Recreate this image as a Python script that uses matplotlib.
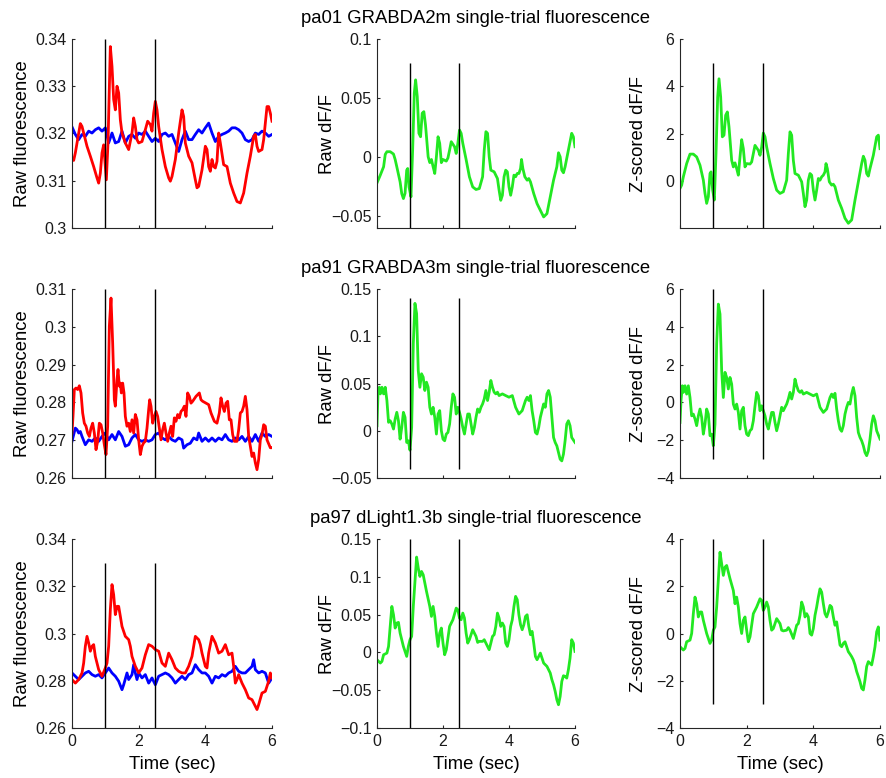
import numpy as np
import matplotlib
matplotlib.use("Agg")
import matplotlib.pyplot as plt

plt.rcParams["font.family"] = ["Liberation Sans", "DejaVu Sans"]

# event markers (sec)
event_times = [1.0, 2.5]

row_titles = [
    "pa01 GRABDA2m single-trial fluorescence",
    "pa91 GRABDA3m single-trial fluorescence",
    "pa97 dLight1.3b single-trial fluorescence",
]
col_ylabels = ["Raw fluorescence", "Raw dF/F", "Z-scored dF/F"]
x_ticks = [0, 2, 4, 6]

# ---- row 1 : pa01 ----
r1_blue = np.array([
    [0.0, .3214], [0.1, .3198], [0.2, .3187], [0.3, .3198], [0.4, .3194], [0.5, .3205],
    [0.6, .3201], [0.7, .3208], [0.8, .3212], [0.9, .3205], [1.0, .3212], [1.1, .3180],
    [1.2, .3201], [1.3, .3180], [1.4, .3183], [1.5, .3205], [1.6, .3180], [1.7, .3194],
    [1.8, .3198], [1.9, .3190], [2.0, .3201], [2.1, .3198], [2.2, .3205], [2.3, .3194],
    [2.4, .3183], [2.5, .3190], [2.6, .3183], [2.7, .3198], [2.8, .3201], [2.9, .3194],
    [3.0, .3198], [3.1, .3180], [3.2, .3162], [3.3, .3187], [3.4, .3205], [3.5, .3187],
    [3.6, .3187], [3.7, .3198], [3.8, .3208], [3.9, .3201], [4.0, .3212], [4.1, .3222],
    [4.2, .3201], [4.3, .3183], [4.4, .3194], [4.5, .3198], [4.6, .3201], [4.7, .3205],
    [4.8, .3212], [4.9, .3212], [5.0, .3208], [5.1, .3201], [5.2, .3187], [5.3, .3183],
    [5.4, .3187], [5.5, .3201], [5.6, .3198], [5.7, .3205], [5.8, .3201], [5.9, .3194],
    [6.0, .3198],
])
r1_red = np.array([
    [0.0, .3146], [.05, .3143], [0.1, .3159], [.25, .3221], [0.3, .3215], [.35, .3201],
    [.45, .3173], [.55, .3152], [.65, .3130], [.75, .3106], [0.8, .3095], [.85, .3116],
    [0.9, .3159], [.95, .3176], [1.03, .3102], [1.08, .3180], [1.15, .3384], [1.2, .3342],
    [1.25, .3272], [1.3, .3250], [1.35, .3300], [1.4, .3286], [1.45, .3229], [1.5, .3201],
    [1.6, .3180], [1.7, .3166], [1.8, .3201], [1.85, .3233], [1.9, .3215], [1.95, .3187],
    [2.0, .3180], [2.1, .3183], [2.2, .3208], [2.27, .3226], [2.35, .3219], [2.4, .3205],
    [2.45, .3243], [2.5, .3268], [2.55, .3250], [2.6, .3215], [2.7, .3166], [2.8, .3130],
    [2.9, .3106], [2.95, .3099], [3.0, .3109], [3.1, .3145], [3.2, .3201], [3.3, .3250],
    [3.35, .3236], [3.4, .3180], [3.5, .3152], [3.6, .3138], [3.7, .3102], [3.75, .3085],
    [3.8, .3088], [3.9, .3123], [4.0, .3173], [4.05, .3166], [4.1, .3130], [4.15, .3120],
    [4.2, .3145], [4.25, .3130], [4.3, .3127], [4.35, .3141], [4.4, .3201], [4.45, .3180],
    [4.55, .3134], [4.65, .3130], [4.75, .3095], [4.85, .3074], [4.95, .3056], [5.05, .3053],
    [5.15, .3074], [5.25, .3116], [5.35, .3152], [5.45, .3194], [5.5, .3198], [5.55, .3173],
    [5.6, .3162], [5.7, .3166], [5.75, .3187], [5.8, .3222], [5.85, .3257], [5.9, .3257],
    [5.95, .3243], [6.0, .3226],
])
r1_dff = np.array([
    [0.0, -.0222], [0.1, -.0156], [0.2, -.0085], [.25, .0020], [0.3, .0043], [0.4, .0043],
    [0.5, .0023], [.55, -.0023], [0.6, -.0085], [0.7, -.0213], [.75, -.0313], [0.8, -.0355],
    [.85, -.0310], [0.9, -.0114], [.93, -.0100], [.97, -.0256], [1.03, -.0340], [1.08, .0057],
    [1.13, .0540], [1.17, .0653], [1.22, .0511], [1.27, .0199], [1.32, .0170], [1.37, .0370],
    [1.42, .0383], [1.47, .0270], [1.55, .0000], [1.6, -.0050], [1.65, -.0023], [1.7, -.0085],
    [1.75, -.0142], [1.8, .0000], [1.85, .0170], [1.9, .0114], [1.95, -.0050], [2.0, -.0023],
    [2.1, -.0037], [2.15, -.0010], [2.2, .0057], [2.25, .0128], [2.35, .0085], [2.4, .0028],
    [2.45, .0114], [2.5, .0227], [2.55, .0199], [2.6, .0114], [2.7, -.0023], [2.8, -.0170],
    [2.9, -.0256], [3.0, -.0278], [3.1, -.0270], [3.2, -.0170], [3.25, .0057], [3.3, .0213],
    [3.35, .0199], [3.4, .0000], [3.45, -.0114], [3.55, -.0128], [3.65, -.0185], [3.7, -.0284],
    [3.75, -.0370], [3.8, -.0327], [3.85, -.0170], [3.9, -.0114], [3.95, -.0128], [4.0, -.0256],
    [4.05, -.0327], [4.1, -.0256], [4.15, -.0156], [4.2, -.0170], [4.25, -.0142], [4.3, -.0142],
    [4.35, -.0100], [4.38, -.0023], [4.42, -.0100], [4.48, -.0170], [4.55, -.0199], [4.6, -.0185],
    [4.65, -.0213], [4.75, -.0313], [4.85, -.0398], [4.95, -.0455], [5.05, -.0511], [5.15, -.0483],
    [5.25, -.0341], [5.35, -.0199], [5.45, -.0085], [5.5, .0034], [5.55, .0000], [5.6, -.0114],
    [5.65, -.0136], [5.7, -.0085], [5.8, .0057], [5.9, .0199], [5.95, .0170], [6.0, .0085],
])
r1_z = np.array([
    [0.0, -.31], [.05, -.17], [0.1, .18], [0.2, .74], [0.3, 1.14], [0.4, 1.14],
    [0.5, 1.02], [0.6, .67], [0.7, .04], [.75, -.52], [0.8, -.94], [.85, -.66],
    [0.9, .32], [.93, .39], [.98, -.38], [1.03, -.80], [1.08, 1.16], [1.13, 3.55],
    [1.17, 4.32], [1.22, 3.55], [1.27, 1.87], [1.32, 1.94], [1.37, 2.78], [1.42, 2.92],
    [1.47, 2.29], [1.55, .88], [1.6, .60], [1.65, .77], [1.7, .53], [1.75, .25],
    [1.8, 1.02], [1.85, 1.75], [1.9, 1.37], [1.95, .60], [2.0, .74], [2.1, .72],
    [2.15, .81], [2.2, 1.16], [2.25, 1.51], [2.35, 1.30], [2.4, 1.09], [2.45, 1.44],
    [2.5, 2.03], [2.55, 1.87], [2.6, 1.44], [2.7, .74], [2.8, .11], [2.9, -.38],
    [3.0, -.52], [3.1, -.45], [3.2, .04], [3.25, 1.16], [3.3, 2.08], [3.35, 1.94],
    [3.4, .88], [3.45, .32], [3.55, .25], [3.65, -.03], [3.7, -.52], [3.75, -1.08],
    [3.8, -.80], [3.85, .04], [3.9, .32], [3.95, .25], [4.0, -.38], [4.05, -.80],
    [4.1, -.38], [4.15, .11], [4.2, .04], [4.25, .18], [4.3, .25], [4.35, .39],
    [4.38, .74], [4.42, .53], [4.48, -.03], [4.55, -.17], [4.6, -.13], [4.65, -.24],
    [4.75, -.80], [4.85, -1.15], [4.95, -1.57], [5.05, -1.78], [5.15, -1.64], [5.25, -.80],
    [5.35, -.03], [5.45, .74], [5.5, 1.05], [5.55, .88], [5.6, .32], [5.65, .21],
    [5.7, .53], [5.8, 1.09], [5.9, 1.87], [5.95, 1.94], [6.0, 1.37],
])

# ---- row 2 : pa91 ----
r2_blue = np.array([
    [0.0, .2697], [0.1, .2732], [.15, .2728], [0.2, .2719], [.25, .2723], [0.3, .2710],
    [0.4, .2688], [0.5, .2701], [0.6, .2697], [0.7, .2706], [0.8, .2697], [0.9, .2710],
    [1.0, .2719], [1.1, .2701], [1.2, .2715], [1.3, .2701], [1.4, .2723], [1.5, .2710],
    [1.6, .2684], [1.7, .2688], [1.8, .2706], [1.9, .2715], [2.0, .2701], [2.1, .2697],
    [2.2, .2701], [2.3, .2697], [2.4, .2701], [2.5, .2715], [2.6, .2719], [2.7, .2706],
    [2.8, .2701], [2.9, .2710], [3.0, .2701], [3.1, .2697], [3.2, .2706], [3.3, .2701],
    [3.35, .2679], [3.45, .2688], [3.55, .2692], [3.65, .2706], [3.75, .2701], [3.8, .2719],
    [3.9, .2697], [4.0, .2706], [4.1, .2697], [4.2, .2706], [4.3, .2697], [4.4, .2706],
    [4.5, .2701], [4.6, .2715], [4.7, .2701], [4.8, .2697], [4.9, .2706], [5.0, .2701],
    [5.1, .2710], [5.2, .2697], [5.3, .2710], [5.4, .2697], [5.5, .2715], [5.6, .2697],
    [5.7, .2719], [5.8, .2710], [5.9, .2715], [6.0, .2710],
])
r2_red = np.array([
    [0.0, .2719], [.03, .2763], [.07, .2834], [.12, .2838], [.17, .2834], [.22, .2844],
    [.27, .2825], [.32, .2772], [.37, .2745], [.42, .2737], [.47, .2719], [.52, .2710],
    [.57, .2732], [.62, .2745], [.67, .2719], [.72, .2675], [.77, .2697], [.82, .2745],
    [.87, .2741], [.92, .2719], [.97, .2688], [1.02, .2662], [1.07, .2737], [1.12, .3001],
    [1.17, .3076], [1.22, .2957], [1.27, .2807], [1.3, .2790], [1.35, .2860], [1.38, .2887],
    [1.42, .2843], [1.45, .2851], [1.48, .2825], [1.52, .2851], [1.56, .2825], [1.6, .2763],
    [1.65, .2737], [1.7, .2745], [1.75, .2723], [1.8, .2754], [1.85, .2719], [1.9, .2768],
    [1.95, .2754], [2.0, .2701], [2.05, .2662], [2.1, .2684], [2.15, .2693], [2.2, .2697],
    [2.25, .2732], [2.3, .2781], [2.33, .2807], [2.37, .2790], [2.42, .2745], [2.47, .2763],
    [2.52, .2776], [2.57, .2763], [2.62, .2732], [2.67, .2701], [2.72, .2728], [2.77, .2745],
    [2.82, .2719], [2.87, .2697], [2.92, .2719], [2.97, .2737], [3.02, .2710], [3.07, .2759],
    [3.12, .2750], [3.17, .2768], [3.22, .2759], [3.27, .2776], [3.32, .2781], [3.37, .2790],
    [3.42, .2763], [3.47, .2825], [3.52, .2816], [3.57, .2798], [3.62, .2803], [3.72, .2816],
    [3.82, .2825], [3.87, .2807], [3.92, .2803], [4.02, .2798], [4.1, .2794], [4.17, .2772],
    [4.27, .2750], [4.35, .2745], [4.42, .2772], [4.47, .2812], [4.52, .2790], [4.57, .2776],
    [4.62, .2798], [4.67, .2803], [4.72, .2754], [4.77, .2754], [4.82, .2715], [4.87, .2697],
    [4.95, .2697], [5.0, .2728], [5.05, .2772], [5.1, .2776], [5.15, .2790], [5.2, .2816],
    [5.25, .2781], [5.3, .2710], [5.35, .2684], [5.4, .2657], [5.45, .2666], [5.5, .2640],
    [5.55, .2622], [5.6, .2649], [5.65, .2701], [5.7, .2715], [5.75, .2741], [5.8, .2737],
    [5.85, .2701], [5.95, .2680], [6.0, .2680],
])
r2_dff = np.array([
    [0.0, .0053], [.03, .0390], [.07, .0460], [0.1, .0390], [.15, .0460], [0.2, .0390],
    [.25, .0460], [0.3, .0320], [.35, .0089], [0.4, .0106], [.45, .0071], [0.5, .0018],
    [.55, .0124], [0.6, .0195], [.65, .0106], [0.7, -.0089], [.75, .0035], [0.8, .0195],
    [.85, .0142], [0.9, -.0124], [.95, -.0106], [1.0, -.0206], [1.05, .0035], [1.1, .0922],
    [1.15, .1348], [1.2, .1241], [1.25, .0638], [1.3, .0460], [1.35, .0603], [1.4, .0567],
    [1.45, .0426], [1.5, .0514], [1.55, .0460], [1.6, .0248], [1.65, .0177], [1.7, .0248],
    [1.75, .0142], [1.8, -.0035], [1.85, .0177], [1.9, .0213], [1.95, .0000], [2.0, -.0089],
    [2.05, -.0106], [2.1, -.0035], [2.15, -.0018], [2.2, .0071], [2.25, .0248], [2.3, .0390],
    [2.35, .0355], [2.4, .0177], [2.45, .0248], [2.5, .0195], [2.55, .0124], [2.6, .0035],
    [2.65, -.0035], [2.7, .0071], [2.75, .0177], [2.8, .0177], [2.85, .0071], [2.9, -.0035],
    [2.95, .0035], [3.0, .0142], [3.05, .0230], [3.1, .0195], [3.15, .0248], [3.2, .0284],
    [3.25, .0337], [3.3, .0426], [3.35, .0320], [3.4, .0408], [3.45, .0532], [3.5, .0460],
    [3.55, .0408], [3.6, .0390], [3.65, .0408], [3.7, .0372], [3.8, .0390], [3.9, .0372],
    [4.0, .0355], [4.1, .0372], [4.2, .0248], [4.3, .0177], [4.4, .0213], [4.5, .0320],
    [4.55, .0355], [4.6, .0320], [4.65, .0372], [4.7, .0213], [4.75, .0106], [4.8, -.0018],
    [4.85, -.0035], [4.9, .0035], [4.95, .0142], [5.0, .0213], [5.05, .0284], [5.1, .0248],
    [5.15, .0390], [5.2, .0426], [5.25, .0355], [5.3, .0142], [5.35, -.0071], [5.4, -.0124],
    [5.45, -.0160], [5.5, -.0230], [5.55, -.0301], [5.6, -.0319], [5.65, -.0248], [5.7, -.0106],
    [5.75, .0071], [5.8, .0106], [5.85, .0053], [5.9, -.0071], [6.0, -.0124],
])
r2_z = np.array([
    [0.0, -1.06], [.03, .09], [.07, .88], [0.1, .53], [.15, .88], [0.2, .44],
    [.25, .88], [0.3, .26], [.35, -.71], [0.4, -.62], [.45, -.88], [0.5, -1.23],
    [.55, -.71], [0.6, -.35], [.65, -.79], [0.7, -1.68], [.75, -1.15], [0.8, -.35],
    [.85, -.62], [0.9, -1.76], [.95, -1.68], [1.0, -2.29], [1.05, -1.15], [1.1, 3.09],
    [1.15, 5.20], [1.2, 4.67], [1.25, 1.68], [1.3, .26], [1.35, 1.59], [1.4, 1.32],
    [1.45, .71], [1.5, 1.32], [1.55, .97], [1.6, -.09], [1.65, -.35], [1.7, -.09],
    [1.75, -.53], [1.8, -1.41], [1.85, -.44], [1.9, -.26], [1.95, -1.23], [2.0, -1.68],
    [2.05, -1.76], [2.1, -1.50], [2.15, -1.41], [2.2, -.97], [2.25, -.18], [2.3, .53],
    [2.35, .35], [2.4, -.44], [2.45, -.18], [2.5, -.44], [2.55, -.71], [2.6, -1.15],
    [2.65, -1.41], [2.7, -.97], [2.75, -.53], [2.8, -.53], [2.85, -1.06], [2.9, -1.50],
    [2.95, -1.15], [3.0, -.71], [3.05, -.26], [3.1, -.44], [3.15, -.26], [3.2, -.09],
    [3.25, .18], [3.3, .53], [3.35, .18], [3.4, .53], [3.45, 1.23], [3.5, .88],
    [3.55, .62], [3.6, .53], [3.65, .62], [3.7, .44], [3.8, .53], [3.9, .44],
    [4.0, .35], [4.1, .44], [4.2, -.26], [4.3, -.53], [4.4, -.35], [4.5, .26],
    [4.55, .44], [4.6, .26], [4.65, .48], [4.7, -.35], [4.75, -.97], [4.8, -1.41],
    [4.85, -1.53], [4.9, -1.23], [4.95, -.62], [5.0, -.26], [5.05, .00], [5.1, -.09],
    [5.15, .44], [5.2, .79], [5.25, .35], [5.3, -.79], [5.35, -1.59], [5.4, -1.85],
    [5.45, -2.03], [5.5, -2.29], [5.55, -2.65], [5.6, -2.82], [5.65, -2.56], [5.7, -1.94],
    [5.75, -1.15], [5.8, -.71], [5.85, -.97], [5.9, -1.50], [6.0, -1.94],
])

# ---- row 3 : pa97 ----
r3_blue = np.array([
    [0.0, .2833], [0.1, .2819], [0.2, .2805], [0.3, .2819], [0.4, .2833], [0.5, .2840],
    [0.6, .2826], [0.7, .2819], [0.8, .2826], [0.9, .2812], [1.0, .2833], [1.1, .2854],
    [1.2, .2833], [1.3, .2819], [1.4, .2798], [1.5, .2762], [1.55, .2783], [1.65, .2833],
    [1.7, .2805], [1.8, .2826], [1.85, .2868], [1.9, .2833], [1.95, .2805], [2.0, .2833],
    [2.1, .2812], [2.2, .2826], [2.3, .2790], [2.4, .2812], [2.5, .2783], [2.6, .2819],
    [2.7, .2826], [2.8, .2833], [2.9, .2826], [3.0, .2812], [3.1, .2790], [3.2, .2805],
    [3.3, .2819], [3.4, .2805], [3.5, .2826], [3.6, .2833], [3.7, .2868], [3.8, .2847],
    [3.9, .2833], [4.0, .2833], [4.1, .2819], [4.2, .2790], [4.3, .2819], [4.4, .2812],
    [4.5, .2826], [4.6, .2819], [4.7, .2833], [4.8, .2840], [4.9, .2861], [5.0, .2840],
    [5.1, .2833], [5.2, .2833], [5.3, .2847], [5.4, .2861], [5.45, .2889], [5.5, .2847],
    [5.6, .2833], [5.7, .2840], [5.8, .2833], [5.9, .2790], [6.0, .2812],
])
r3_red = np.array([
    [0.0, .2805], [0.1, .2790], [0.2, .2805], [0.3, .2833], [.35, .2875], [0.4, .2946],
    [.45, .2988], [0.5, .2960], [.55, .2925], [0.6, .2946], [.65, .2953], [0.7, .2903],
    [0.8, .2847], [0.9, .2819], [1.0, .2854], [1.05, .2875], [1.1, .2946], [1.15, .3101],
    [1.2, .3207], [1.25, .3164], [1.3, .3080], [1.35, .3115], [1.4, .3115], [1.45, .3073],
    [1.5, .3030], [1.6, .2988], [1.7, .2974], [1.75, .2946], [1.8, .2903], [1.9, .2861],
    [2.0, .2833], [2.1, .2854], [2.2, .2910], [2.3, .2953], [2.4, .2946], [2.5, .2932],
    [2.6, .2925], [2.7, .2875], [2.8, .2861], [2.9, .2917], [3.0, .2889], [3.1, .2854],
    [3.2, .2840], [3.3, .2833], [3.4, .2833], [3.5, .2861], [3.6, .2903], [3.7, .2988],
    [3.8, .2974], [3.85, .2953], [3.9, .2917], [4.0, .2861], [4.05, .2854], [4.1, .2917],
    [4.2, .2988], [4.3, .2960], [4.4, .2917], [4.5, .2925], [4.6, .2953], [4.7, .2910],
    [4.8, .2917], [4.85, .2861], [4.9, .2790], [4.95, .2805], [5.0, .2826], [5.1, .2790],
    [5.2, .2762], [5.3, .2727], [5.4, .2720], [5.5, .2692], [5.55, .2678], [5.6, .2699],
    [5.7, .2748], [5.8, .2755], [5.9, .2798], [5.95, .2833], [6.0, .2812],
])
r3_dff = np.array([
    [0.0, -.0097], [0.1, -.0141], [.15, -.0119], [0.2, -.0031], [0.3, -.0009], [.35, .0079],
    [0.4, .0344], [.45, .0608], [0.5, .0498], [.55, .0322], [0.6, .0388], [.65, .0397],
    [0.7, .0256], [0.8, .0079], [0.9, -.0053], [.95, .0079], [1.0, .0168], [1.05, .0212],
    [1.1, .0608], [1.2, .1261], [1.25, .1116], [1.3, .1005], [1.35, .1071], [1.4, .1027],
    [1.45, .0917], [1.5, .0807], [1.6, .0608], [1.65, .0476], [1.7, .0608], [1.75, .0476],
    [1.8, .0256], [1.85, .0079], [1.9, .0256], [1.95, .0322], [2.0, .0123], [2.05, -.0031],
    [2.1, .0035], [2.2, .0344], [2.3, .0432], [2.4, .0586], [2.45, .0564], [2.5, .0454],
    [2.55, .0432], [2.6, .0520], [2.65, .0454], [2.7, .0256], [2.75, .0123], [2.8, .0168],
    [2.9, .0300], [3.0, .0212], [3.05, .0132], [3.1, .0146], [3.2, .0146], [3.25, .0168],
    [3.3, .0123], [3.4, .0035], [3.45, .0123], [3.5, .0212], [3.55, .0234], [3.6, .0344],
    [3.65, .0520], [3.7, .0454], [3.75, .0344], [3.8, .0388], [3.85, .0344], [3.9, .0123],
    [3.95, .0079], [4.0, .0168], [4.05, .0344], [4.1, .0432], [4.15, .0608], [4.2, .0741],
    [4.25, .0697], [4.3, .0498], [4.35, .0366], [4.4, .0300], [4.45, .0366], [4.5, .0476],
    [4.55, .0498], [4.6, .0344], [4.65, .0234], [4.7, .0278], [4.75, .0123], [4.8, -.0053],
    [4.85, -.0097], [4.9, -.0053], [4.95, -.0009], [5.0, -.0075], [5.05, -.0141], [5.1, -.0163],
    [5.15, -.0185], [5.2, -.0229], [5.25, -.0273], [5.3, -.0362], [5.35, -.0428], [5.4, -.0516],
    [5.45, -.0626], [5.5, -.0692], [5.55, -.0582], [5.6, -.0384], [5.65, -.0309], [5.7, -.0317],
    [5.75, -.0340], [5.8, -.0229], [5.85, -.0075], [5.9, .0168], [5.95, .0123], [6.0, .0013],
])
r3_z = np.array([
    [0.0, -.56], [0.1, -.70], [.15, -.63], [0.2, -.35], [0.3, -.28], [.35, .00],
    [0.4, .84], [.45, 1.54], [0.5, 1.26], [.55, .70], [0.6, .91], [.65, .91],
    [0.7, .56], [0.8, .00], [0.9, -.42], [.95, -.28], [1.0, .14], [1.05, .28],
    [1.1, 1.12], [1.2, 3.44], [1.25, 2.95], [1.3, 2.46], [1.35, 2.81], [1.4, 2.88],
    [1.45, 2.60], [1.5, 2.32], [1.6, 1.82], [1.65, 1.26], [1.7, 1.54], [1.75, 1.12],
    [1.8, .42], [1.85, .00], [1.9, .56], [1.95, .70], [2.0, .14], [2.05, -.35],
    [2.1, -.14], [2.2, .84], [2.3, 1.12], [2.4, 1.47], [2.45, 1.40], [2.5, .98],
    [2.55, 1.12], [2.6, 1.33], [2.65, 1.12], [2.7, .56], [2.75, .14], [2.8, .21],
    [2.9, .63], [3.0, .42], [3.05, .14], [3.1, .11], [3.2, .14], [3.25, .25],
    [3.3, .14], [3.4, -.21], [3.45, .07], [3.5, .35], [3.55, .42], [3.6, .77],
    [3.65, 1.33], [3.7, 1.12], [3.75, .70], [3.8, .84], [3.85, .70], [3.9, .00],
    [3.95, -.07], [4.0, .21], [4.05, .77], [4.1, 1.12], [4.15, 1.54], [4.2, 1.89],
    [4.25, 1.75], [4.3, 1.26], [4.35, .84], [4.4, .70], [4.45, .91], [4.5, 1.19],
    [4.55, 1.12], [4.6, .70], [4.65, .35], [4.7, .49], [4.75, .00], [4.8, -.49],
    [4.85, -.56], [4.9, -.42], [4.95, -.35], [5.0, -.56], [5.05, -.77], [5.1, -.87],
    [5.15, -.98], [5.2, -1.12], [5.25, -1.33], [5.3, -1.61], [5.35, -1.82], [5.4, -2.04],
    [5.45, -2.32], [5.5, -2.39], [5.55, -1.96], [5.6, -1.40], [5.65, -1.19], [5.7, -1.26],
    [5.75, -1.33], [5.8, -.98], [5.85, -.56], [5.9, .07], [5.95, .28], [6.0, -.28],
])

# axis ranges, ticks and marker-line extents, row by row
y_limits = [
    [(0.30, 0.34), (-0.0605, 0.10), (-1.98, 6)],
    [(0.26, 0.31), (-0.05, 0.15), (-4, 6)],
    [(0.26, 0.34), (-0.10, 0.15), (-4, 4)],
]
y_ticks = [
    [[0.30, 0.31, 0.32, 0.33, 0.34], [-0.05, 0, 0.05, 0.10], [0, 2, 4, 6]],
    [[0.26, 0.27, 0.28, 0.29, 0.30, 0.31], [-0.05, 0, 0.05, 0.10, 0.15], [-4, -2, 0, 2, 4, 6]],
    [[0.26, 0.28, 0.30, 0.32, 0.34], [-0.10, -0.05, 0, 0.05, 0.10, 0.15], [-4, -2, 0, 2, 4]],
]
y_ticklabels = [
    [["0.3", "0.31", "0.32", "0.33", "0.34"], ["\u22120.05", "0", "0.05", "0.1"], ["0", "2", "4", "6"]],
    [["0.26", "0.27", "0.28", "0.29", "0.3", "0.31"], ["\u22120.05", "0", "0.05", "0.1", "0.15"],
     ["\u22124", "\u22122", "0", "2", "4", "6"]],
    [["0.26", "0.28", "0.3", "0.32", "0.34"], ["\u22120.1", "\u22120.05", "0", "0.05", "0.1", "0.15"],
     ["\u22124", "\u22122", "0", "2", "4"]],
]
marker_spans = [
    [(0.30, 0.34), (-0.0605, 0.08), (-1.98, 5)],
    [(0.26, 0.31), (-0.04, 0.14), (-3, 6)],
    [(0.26, 0.33), (-0.10, 0.15), (-3, 4)],
]

RED, BLUE, GREEN = "#ff0000", "#0000ff", "#22e822"
rows = [
    [[(r1_blue, BLUE), (r1_red, RED)], [(r1_dff, GREEN)], [(r1_z, GREEN)]],
    [[(r2_blue, BLUE), (r2_red, RED)], [(r2_dff, GREEN)], [(r2_z, GREEN)]],
    [[(r3_blue, BLUE), (r3_red, RED)], [(r3_dff, GREEN)], [(r3_z, GREEN)]],
]

W, H = 887, 778
fig = plt.figure(figsize=(W / 100, H / 100), dpi=100)

ax_left = [72, 377, 680]
ax_width = [200, 198, 200]
ax_top = [39, 289, 539]
ax_h = 189
label_x = [-0.205, -0.207, -0.165]
axis_col = "#262626"

for r in range(3):
    for c in range(3):
        ax = fig.add_axes([ax_left[c] / W, 1 - (ax_top[r] + ax_h) / H, ax_width[c] / W, ax_h / H])
        for data, col in rows[r][c]:
            ax.plot(data[:, 0], data[:, 1], color=col, lw=2.0, solid_joinstyle="round")
        lo, hi = marker_spans[r][c]
        ax.vlines(event_times, lo, hi, colors="black", lw=1.0)

        ax.set_xlim(0, 6)
        ax.set_ylim(*y_limits[r][c])
        ax.set_xticks(x_ticks)
        ax.set_yticks(y_ticks[r][c])
        ax.set_yticklabels(y_ticklabels[r][c])
        if r == 2:
            ax.set_xticklabels([str(v) for v in x_ticks])
            ax.set_xlabel("Time (sec)", fontsize=13.3, labelpad=5.5)
        else:
            ax.set_xticklabels([])

        for s in ["top", "right"]:
            ax.spines[s].set_visible(False)
        for s in ["left", "bottom"]:
            ax.spines[s].set_color(axis_col)
            ax.spines[s].set_linewidth(0.8)
        ax.tick_params(direction="in", length=2.5, width=0.8, color=axis_col,
                       labelcolor="#1a1a1a", labelsize=11.5, pad=4)

        ax.set_ylabel(col_ylabels[c], fontsize=13.3)
        ax.yaxis.set_label_coords(label_x[c], 0.5)
        if c == 1:
            ax.set_title(row_titles[r], fontsize=13.3, pad=11.5)

fig.savefig("out.png", dpi=100)
